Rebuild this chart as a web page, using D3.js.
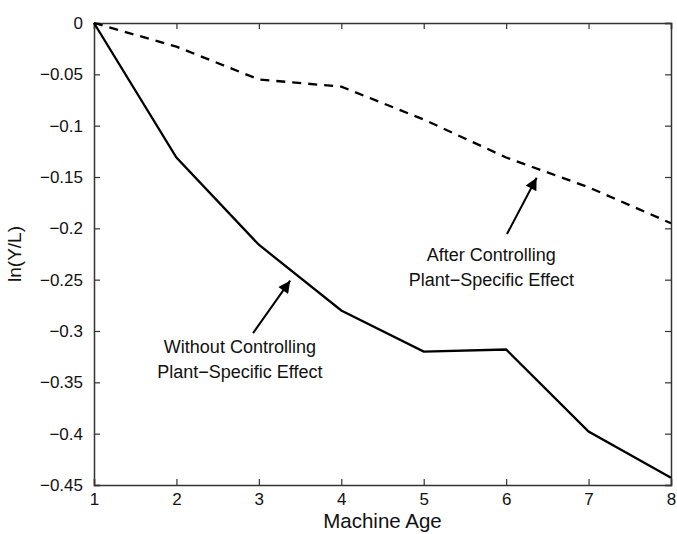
<!DOCTYPE html>
<html>
<head>
<meta charset="utf-8">
<script src="https://cdn.jsdelivr.net/npm/d3@7"></script>
<style>
  body { margin: 0; background: #fff; }
  text { font-family: "Liberation Sans", Arial, sans-serif; fill: #111; }
</style>
</head>
<body>
<div id="chart"></div>
<script>
// machine age on the x axis
const ages = [1, 2, 3, 4, 5, 6, 7, 8];
// ln(Y/L) without controlling plant-specific effect
const withoutControl = [0, -0.131, -0.216, -0.280, -0.320, -0.318, -0.398, -0.443];
// ln(Y/L) after controlling plant-specific effect
const afterControl = [0, -0.023, -0.055, -0.062, -0.094, -0.131, -0.160, -0.195];
const yTicks = [0, -0.05, -0.1, -0.15, -0.2, -0.25, -0.3, -0.35, -0.4, -0.45];

const margin = { top: 23, right: 6, bottom: 49, left: 94 };
const width = 677 - margin.left - margin.right;
const height = 534 - margin.top - margin.bottom;

const svg = d3.select('#chart')
  .append('svg')
  .attr('width', 677)
  .attr('height', 534);

const g = svg.append('g')
  .attr('transform', `translate(${margin.left}, ${margin.top})`);

const x = d3.scaleLinear().domain([1, 8]).range([0, width]);
const y = d3.scaleLinear().domain([-0.45, 0]).range([height, 0]);

const fmt = (d) => d === 0 ? '0' : String(d).replace('-', '\u2212');

// axes with inward ticks (box style)
g.append('g')
  .attr('transform', `translate(0, ${height})`)
  .call(d3.axisBottom(x).tickValues(ages).tickSize(-6).tickPadding(8).tickFormat(d3.format('d')));
g.append('g')
  .call(d3.axisTop(x).tickValues(ages).tickSize(-6).tickFormat(''));
g.append('g')
  .call(d3.axisLeft(y).tickValues(yTicks).tickSize(-6).tickPadding(11).tickFormat(fmt));
g.append('g')
  .attr('transform', `translate(${width}, 0)`)
  .call(d3.axisRight(y).tickValues(yTicks).tickSize(-6).tickFormat(''));

g.selectAll('.domain').attr('stroke', '#333').attr('stroke-width', 1.5);
g.selectAll('.tick line').attr('stroke', '#333').attr('stroke-width', 1.2);
g.selectAll('.tick text').style('font-size', '17px').attr('fill', '#111');

const line = d3.line()
  .x((d, i) => x(ages[i]))
  .y((d) => y(d));

g.append('path')
  .datum(withoutControl)
  .attr('fill', 'none')
  .attr('stroke', '#000')
  .attr('stroke-width', 2.3)
  .attr('d', line);

g.append('path')
  .datum(afterControl)
  .attr('fill', 'none')
  .attr('stroke', '#000')
  .attr('stroke-width', 2.3)
  .attr('stroke-dasharray', '9,7')
  .attr('d', line);

// arrow annotations
svg.append('defs').append('marker')
  .attr('id', 'arrow')
  .attr('viewBox', '0 0 10 10')
  .attr('refX', 10)
  .attr('refY', 5)
  .attr('markerWidth', 18)
  .attr('markerHeight', 12)
  .attr('markerUnits', 'userSpaceOnUse')
  .attr('orient', 'auto')
  .append('path')
  .attr('d', 'M0,0 L10,5 L0,10 z')
  .attr('fill', '#000');

const notes = [
  { from: [6.01, -0.2055], to: [6.37, -0.1507], text: ['After Controlling', 'Plant\u2212Specific Effect'], at: [5.82, -0.232] },
  { from: [2.93, -0.302], to: [3.38, -0.251], text: ['Without Controlling', 'Plant\u2212Specific Effect'], at: [2.77, -0.321] }
];

notes.forEach((n) => {
  g.append('line')
    .attr('x1', x(n.from[0])).attr('y1', y(n.from[1]))
    .attr('x2', x(n.to[0])).attr('y2', y(n.to[1]))
    .attr('stroke', '#000')
    .attr('stroke-width', 2)
    .attr('marker-end', 'url(#arrow)');
  n.text.forEach((t, i) => {
    g.append('text')
      .attr('x', x(n.at[0]))
      .attr('y', y(n.at[1]) + i * 25)
      .attr('text-anchor', 'middle')
      .style('font-size', '18px')
      .text(t);
  });
});

// axis titles
svg.append('text')
  .attr('x', margin.left + width / 2)
  .attr('y', 528)
  .attr('text-anchor', 'middle')
  .style('font-size', '20.5px')
  .text('Machine Age');

svg.append('text')
  .attr('transform', `translate(21, ${margin.top + height / 2}) rotate(-90)`)
  .attr('text-anchor', 'middle')
  .style('font-size', '19px')
  .text('ln(Y/L)');
</script>
</body>
</html>
